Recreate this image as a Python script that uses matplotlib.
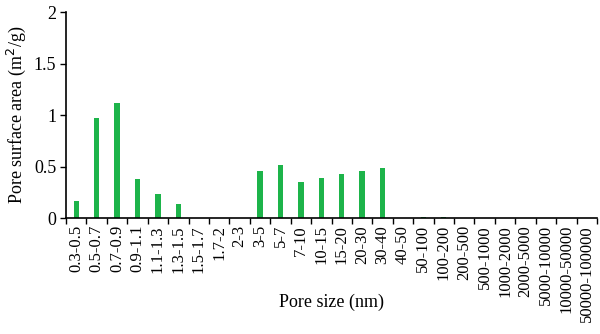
import matplotlib.pyplot as plt
import numpy as np

plt.rcParams['font.family'] = ['Liberation Serif', 'DejaVu Serif']

sizes = ["0.3-0.5", "0.5-0.7", "0.7-0.9", "0.9-1.1", "1.1-1.3", "1.3-1.5", "1.5-1.7",
         "1.7-2", "2-3", "3-5", "5-7", "7-10", "10-15", "15-20", "20-30", "30-40",
         "40-50", "50-100", "100-200", "200-500", "500-1000", "1000-2000",
         "2000-5000", "5000-10000", "10000-50000", "50000-100000"]
area = [0.17, 0.97, 1.12, 0.38, 0.23, 0.14, 0, 0, 0, 0.46, 0.52, 0.35, 0.39,
        0.43, 0.46, 0.49, 0.005, 0.015, 0.006, 0.005, 0.005, 0.004, 0.004,
        0.004, 0.004, 0.003]

fig = plt.figure(figsize=(6, 3.34), dpi=100)
ax = fig.add_axes([0.11, 0.347, 0.885, 0.617])

x = np.arange(len(sizes))
ax.bar(x, area, width=0.26, color='#1db44a')

ax.set_xlim(-0.5, len(sizes) - 0.5)
ax.set_ylim(0, 2)
ax.set_yticks([0, 0.5, 1, 1.5, 2])
ax.set_yticklabels(["0", "0.5", "1", "1.5", "2"], fontsize=13)
ax.set_xticks(x)
ax.set_xticklabels(sizes, rotation=90, fontsize=12)
ax.tick_params(axis='x', length=0, pad=5)
ax.set_xticks(np.arange(len(sizes) + 1) - 0.5, minor=True)
ax.tick_params(axis='x', which='minor', length=4, direction='out', width=1)
ax.tick_params(axis='y', length=4, direction='out', width=1, pad=3)

for s in ['top', 'right']:
    ax.spines[s].set_visible(False)
ax.spines['left'].set_linewidth(1.2)
ax.spines['bottom'].set_linewidth(1.2)

ax.set_ylabel("Pore surface area (m$^2$/g)", fontsize=13)
ax.set_xlabel("Pore size (nm)", fontsize=13, va='center')
ax.xaxis.set_label_coords(0.5, -0.41)

plt.savefig("out.png")
